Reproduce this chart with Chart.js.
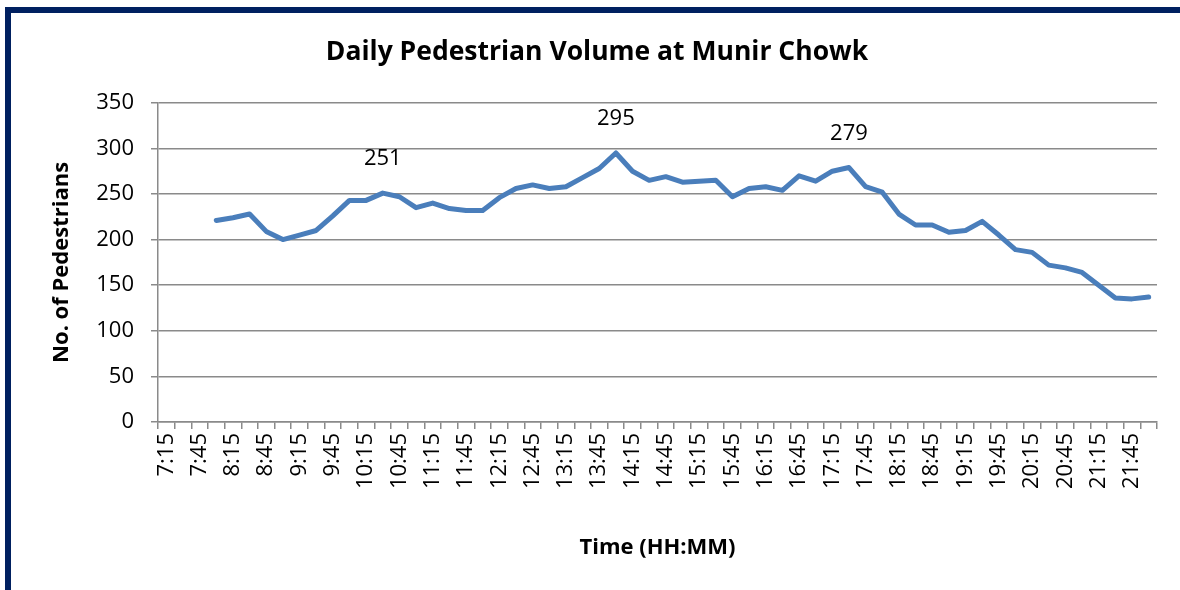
<!DOCTYPE html>
<html>
<head>
<meta charset="utf-8">
<title>Daily Pedestrian Volume at Munir Chowk</title>
<script src="https://cdn.jsdelivr.net/npm/chart.js@4.4.1/dist/chart.umd.min.js"></script>
<style>
  html, body { margin: 0; padding: 0; background: #fff; }
  #wrap { position: relative; width: 1180px; height: 590px; overflow: hidden; }
  #frame-top { position: absolute; left: 5px; top: 7px; width: 1175px; height: 6px; background: #002060; }
  #frame-left { position: absolute; left: 5px; top: 7px; width: 6px; height: 583px; background: #002060; }
</style>
</head>
<body>
<div id="wrap">
  <canvas id="chart"></canvas>
  <div id="frame-top"></div>
  <div id="frame-left"></div>
</div>
<script>
// time slots, 15 min apart
const timeSlots = [
  '7:15', '7:30', '7:45', '8:00', '8:15', '8:30', '8:45', '9:00', '9:15', '9:30',
  '9:45', '10:00', '10:15', '10:30', '10:45', '11:00', '11:15', '11:30', '11:45', '12:00',
  '12:15', '12:30', '12:45', '13:00', '13:15', '13:30', '13:45', '14:00', '14:15', '14:30',
  '14:45', '15:00', '15:15', '15:30', '15:45', '16:00', '16:15', '16:30', '16:45', '17:00',
  '17:15', '17:30', '17:45', '18:00', '18:15', '18:30', '18:45', '19:00', '19:15', '19:30',
  '19:45', '20:00', '20:15', '20:30', '20:45', '21:00', '21:15', '21:30', '21:45', '22:00'
];

// pedestrians counted per slot (no count before 8:00)
const pedestrians = [
  null, null, null, 221, 224, 228, 209, 200, 205, 210,
  226, 243, 243, 251, 247, 235, 240, 234, 232, 232,
  246, 256, 260, 256, 258, 268, 278, 295, 275, 265,
  269, 263, 264, 265, 247, 256, 258, 254, 270, 264,
  275, 279, 258, 252, 228, 216, 216, 208, 210, 220,
  205, 189, 186, 172, 169, 164, 150, 136, 135, 137
];

// slots that carry a value label
const labelledSlots = ['10:30', '14:00', '17:30'];

const yTicks = [0, 50, 100, 150, 200, 250, 300, 350];

const FONT = "'Open Sans', 'DejaVu Sans', sans-serif";
const GRID = '#8a8a8a';

// draws the value above the labelled points
const valueLabels = {
  id: 'valueLabels',
  afterDatasetsDraw(chart) {
    const meta = chart.getDatasetMeta(0);
    const ctx = chart.ctx;
    ctx.save();
    ctx.font = '22px ' + FONT;
    ctx.fillStyle = '#000';
    ctx.textAlign = 'center';
    ctx.textBaseline = 'middle';
    labelledSlots.forEach(slot => {
      const i = timeSlots.indexOf(slot);
      const pt = meta.data[i];
      ctx.fillText(String(pedestrians[i]), pt.x, pt.y - 34);
    });
    ctx.restore();
  }
};

const canvas = document.getElementById('chart');
canvas.width = 1180;
canvas.height = 590;

new Chart(canvas, {
  type: 'line',
  data: {
    labels: timeSlots,
    datasets: [{
      label: 'Pedestrians',
      data: pedestrians,
      borderColor: '#4a7ebb',
      borderWidth: 5,
      pointRadius: 0,
      tension: 0,
      borderJoinStyle: 'round',
      borderCapStyle: 'round',
      fill: false
    }]
  },
  options: {
    responsive: false,
    animation: false,
    layout: { padding: { left: 37, right: 23, top: 0, bottom: 20 } },
    plugins: {
      legend: { display: false },
      tooltip: { enabled: false },
      title: {
        display: true,
        text: 'Daily Pedestrian Volume at Munir Chowk',
        color: '#000',
        font: { family: FONT, size: 26.5, weight: 'bold', lineHeight: 1.2 },
        padding: { top: 37, bottom: 34 }
      }
    },
    scales: {
      x: {
        type: 'category',
        offset: true,
        grid: {
          offset: true,
          drawOnChartArea: false,
          drawTicks: true,
          tickLength: 7,
          color: GRID,
          lineWidth: 1.5
        },
        border: { display: true, color: GRID, width: 1.5 },
        ticks: {
          autoSkip: false,
          minRotation: 90,
          maxRotation: 90,
          padding: 4,
          color: '#000',
          font: { family: FONT, size: 22 },
          callback: (val, i) => (i % 2 === 0 ? timeSlots[i] : '')
        },
        title: {
          display: true,
          text: 'Time (HH:MM)',
          color: '#000',
          font: { family: FONT, size: 22, weight: 'bold', lineHeight: 1.2 },
          padding: { top: 0, bottom: 9 }
        },
        afterFit: scale => { scale.height = 148; }
      },
      y: {
        min: 0,
        max: 350,
        afterBuildTicks: scale => { scale.ticks = yTicks.map(v => ({ value: v })); },
        grid: {
          color: GRID,
          lineWidth: 1.5,
          drawTicks: true,
          tickLength: 7
        },
        border: { display: true, color: GRID, width: 1.5 },
        ticks: {
          padding: 17,
          color: '#000',
          font: { family: FONT, size: 22 }
        },
        title: {
          display: true,
          text: 'No. of Pedestrians',
          color: '#000',
          font: { family: FONT, size: 22, weight: 'bold', lineHeight: 1.2 },
          padding: { top: 12, bottom: 0 }
        },
        afterFit: scale => { scale.width = 121; }
      }
    }
  },
  plugins: [valueLabels]
});
</script>
</body>
</html>
